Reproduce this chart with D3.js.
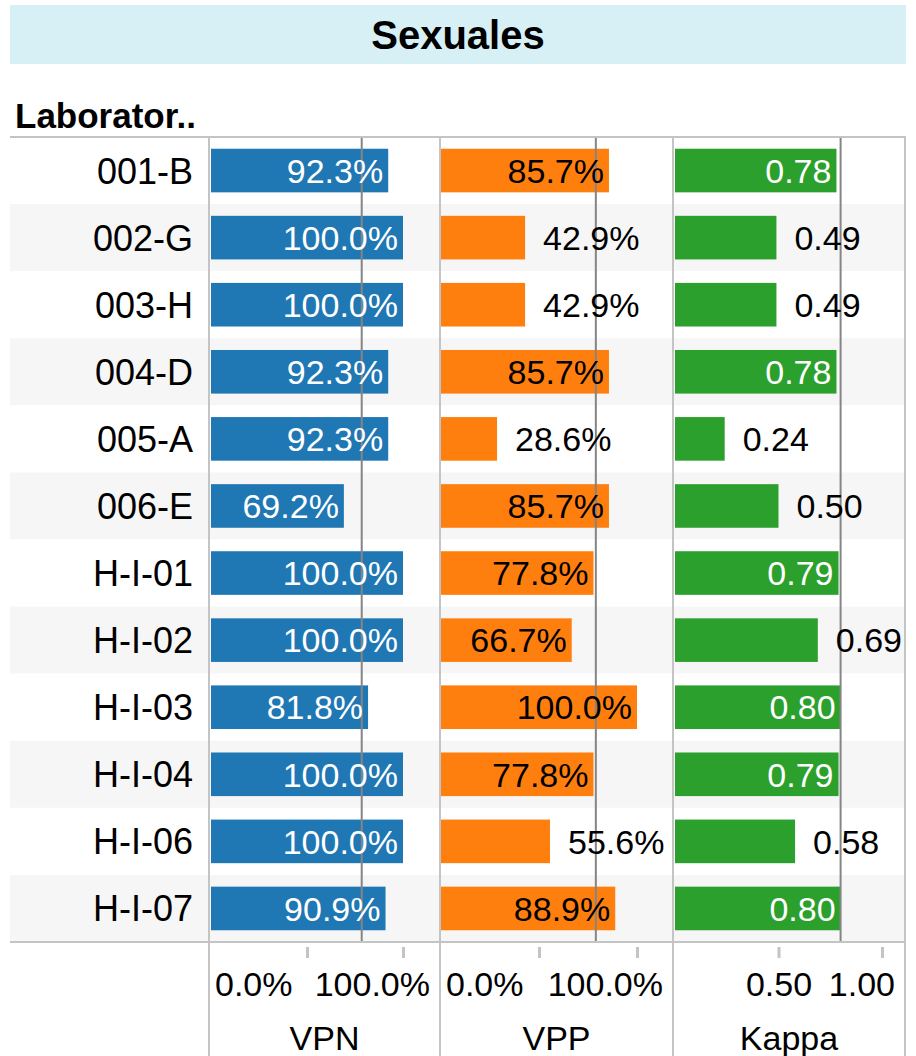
<!DOCTYPE html>
<html lang="es">
<head>
  <meta charset="UTF-8">
  <title>Sexuales</title>
  <script src="https://cdn.jsdelivr.net/npm/d3@7.6.1/dist/d3.min.js"></script>
  <style>
    body { margin: 0; background: #fff; }
    svg { display: block; font-family: "Liberation Sans", Arial, sans-serif; }
  </style>
</head>
<body>
  <div id="chart"></div>
  <script>
    const width = 916
    const height = 1056

    // datos
    const labs = ['001-B', '002-G', '003-H', '004-D', '005-A', '006-E', 'H-I-01', 'H-I-02', 'H-I-03', 'H-I-04', 'H-I-06', 'H-I-07']
    const vpn = [0.923, 1, 1, 0.923, 0.923, 0.692, 1, 1, 0.818, 1, 1, 0.909]
    const vpp = [0.857, 0.429, 0.429, 0.857, 0.286, 0.857, 0.778, 0.667, 1, 0.778, 0.556, 0.889]
    const kappa = [0.78, 0.49, 0.49, 0.78, 0.24, 0.50, 0.79, 0.69, 0.80, 0.79, 0.58, 0.80]
    const measures = ['VPN', 'VPP', 'Kappa']
    const refValues = [0.785, 0.79, 0.80]
    const tickValues = [0, 0.5, 1]
    const tickLabelsPct = ['0.0%', '', '100.0%']
    const tickLabelsKappa = ['', '0.50', '1.00']

    const series = [vpn, vpp, kappa]
    const tickLabels = [tickLabelsPct, tickLabelsPct, tickLabelsKappa]

    // layout de paneles
    const panels = [
      { left: 209, right: 440, x0: 211, x1: 403, color: '#1f77b4', inText: '#fff', minIn: 0.6, fmt: d3.format('.1%') },
      { left: 440, right: 673, x0: 441, x1: 637, color: '#ff7f0e', inText: '#000', minIn: 0.6, fmt: d3.format('.1%') },
      { left: 673, right: 905, x0: 675, x1: 882, color: '#2ca02c', inText: '#fff', minIn: 0.75, fmt: d3.format('.2f') }
    ]
    const plotTop = 137
    const plotBottom = 942
    const gridColor = '#c4c4c4'
    const fs = 34

    const svg = d3.select('#chart').append('svg')
      .attr('width', width)
      .attr('height', height)

    // cabecera
    svg.append('rect')
      .attr('x', 10).attr('y', 5).attr('width', 896).attr('height', 59)
      .attr('fill', '#d6f0f5')
    svg.append('text')
      .attr('x', 458).attr('y', 49)
      .attr('text-anchor', 'middle')
      .attr('font-size', 40).attr('font-weight', 'bold')
      .text('Sexuales')

    svg.append('text')
      .attr('x', 15).attr('y', 128)
      .attr('font-size', 35).attr('font-weight', 'bold')
      .text('Laborator..')

    const y = d3.scaleBand().domain(labs).range([plotTop, plotBottom])

    // bandas alternas
    svg.append('g').selectAll('rect').data(labs)
      .enter().append('rect')
      .attr('x', 10)
      .attr('y', d => y(d))
      .attr('width', 896)
      .attr('height', y.bandwidth())
      .attr('fill', (d, i) => i % 2 ? '#f6f6f6' : '#fff')

    // etiquetas de filas
    svg.append('g').selectAll('text').data(labs)
      .enter().append('text')
      .attr('x', 193)
      .attr('y', d => y(d) + y.bandwidth() / 2)
      .attr('dy', '0.36em')
      .attr('text-anchor', 'end')
      .attr('font-size', 36)
      .attr('fill', '#000')
      .text(d => d)

    const barH = y.bandwidth() * 0.65

    panels.forEach((p, k) => {
      const x = d3.scaleLinear().domain([0, 1]).range([p.x0, p.x1])
      const vals = series[k]
      const g = svg.append('g')

      g.selectAll('rect.bar').data(vals)
        .enter().append('rect')
        .attr('class', 'bar')
        .attr('x', x(0))
        .attr('y', (d, i) => y(labs[i]) + (y.bandwidth() - barH) / 2)
        .attr('width', d => x(d) - x(0))
        .attr('height', barH)
        .attr('fill', p.color)

      // linea de referencia
      g.append('line')
        .attr('x1', x(refValues[k])).attr('x2', x(refValues[k]))
        .attr('y1', plotTop).attr('y2', plotBottom)
        .attr('stroke', '#858585').attr('stroke-width', 2)

      // etiquetas
      g.selectAll('text.lbl').data(vals)
        .enter().append('text')
        .attr('class', 'lbl')
        .attr('x', d => d >= p.minIn ? x(d) - 5 : x(d) + 18)
        .attr('y', (d, i) => y(labs[i]) + y.bandwidth() / 2)
        .attr('dy', '0.36em')
        .attr('text-anchor', d => d >= p.minIn ? 'end' : 'start')
        .attr('font-size', fs)
        .attr('fill', d => d >= p.minIn ? p.inText : '#000')
        .text(d => p.fmt(d))

      // eje
      const axis = d3.axisBottom(x)
        .tickValues(tickValues)
        .tickSize(11)
        .tickPadding(14)
        .tickFormat((d, i) => tickLabels[k][i])
      const ax = svg.append('g')
        .attr('transform', `translate(0,${plotBottom + 5})`)
        .call(axis)
      ax.select('.domain').remove()
      ax.selectAll('.tick line')
        .attr('stroke', gridColor).attr('stroke-width', 3)
        .attr('display', d => d === 0 ? 'none' : null)
      ax.selectAll('.tick text')
        .attr('font-size', fs)
        .attr('fill', '#000')
        .attr('font-family', '"Liberation Sans", Arial, sans-serif')
        .each(function () {
          // mantener el texto dentro del panel
          const t = d3.select(this)
          const bb = this.getBBox()
          const tr = d3.select(this.parentNode).attr('transform')
          const tx = +tr.match(/translate\(([-\d.]+)/)[1]
          let shift = 0
          if (bb.width > 0 && tx + bb.x < p.left + 6) shift = p.left + 6 - (tx + bb.x)
          if (bb.width > 0 && tx + bb.x + bb.width > p.right - 10) shift = p.right - 10 - (tx + bb.x + bb.width)
          t.attr('x', shift)
        })

      svg.append('text')
        .attr('x', (p.left + p.right) / 2)
        .attr('y', 1050)
        .attr('text-anchor', 'middle')
        .attr('font-size', fs)
        .attr('fill', '#000')
        .text(measures[k])
    })

    // lineas de marco
    const frame = svg.append('g').attr('stroke', gridColor).attr('stroke-width', 2)
    frame.append('line').attr('x1', 10).attr('x2', 906).attr('y1', plotTop).attr('y2', plotTop)
    frame.append('line').attr('x1', 10).attr('x2', 906).attr('y1', plotBottom).attr('y2', plotBottom)
    const edges = [209, 440, 673, 905]
    frame.selectAll('line.v').data(edges)
      .enter().append('line')
      .attr('class', 'v')
      .attr('x1', d => d).attr('x2', d => d)
      .attr('y1', plotTop).attr('y2', height)
  </script>
</body>
</html>
